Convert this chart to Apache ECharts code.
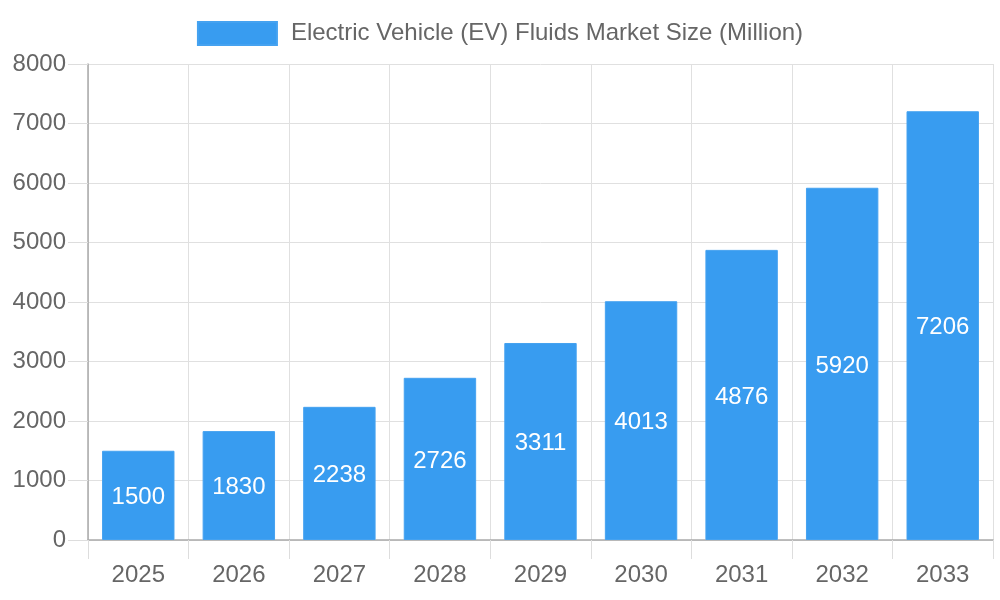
<!DOCTYPE html>
<html>
<head>
<meta charset="utf-8">
<script src="https://cdn.jsdelivr.net/npm/echarts@6/dist/echarts.min.js"></script>
<style>html,body{margin:0;padding:0;background:#fff}#c{width:1000px;height:600px}</style>
</head>
<body>
<div id="c"></div>
<script>
var years = ['2025','2026','2027','2028','2029','2030','2031','2032','2033'];
var marketSize = [1500, 1830, 2238, 2726, 3311, 4013, 4876, 5920, 7206];
var seriesName = 'Electric Vehicle (EV) Fluids Market Size (Million)';
var FF = 'Liberation Sans, Arial, sans-serif';

var chart = echarts.init(document.getElementById('c'), null, {renderer: 'canvas'});
chart.setOption({
  animation: false,
  textStyle: {fontFamily: FF},
  legend: {
    top: 16, left: 'center',
    itemWidth: 79, itemHeight: 23, itemGap: 10,
    icon: 'rect',
    textStyle: {fontSize: 24, color: '#666', fontFamily: FF, padding: [0, 0, 0, 9]},
    data: [seriesName]
  },
  grid: {left: 88, right: 7, top: 64, bottom: 60, containLabel: false},
  xAxis: {
    type: 'category',
    data: years,
    boundaryGap: true,
    axisLine: {show: true, lineStyle: {color: '#aaa', width: 1.5}},
    axisTick: {show: true, length: 19, alignWithLabel: false, lineStyle: {color: '#ddd'}},
    splitLine: {show: true, lineStyle: {color: '#e0e0e0', width: 1}},
    axisLabel: {fontSize: 24, color: '#666', margin: 23, fontFamily: FF}
  },
  yAxis: {
    type: 'value',
    min: 0, max: 8000, interval: 1000,
    axisLine: {show: true, lineStyle: {color: '#aaa', width: 1.5}},
    axisTick: {show: true, length: 20, lineStyle: {color: '#ddd'}},
    splitLine: {show: true, lineStyle: {color: '#e0e0e0', width: 1}},
    axisLabel: {fontSize: 24, color: '#666', margin: 22, fontFamily: FF,
      formatter: function (v) { return String(v); }}
  },
  series: [{
    name: seriesName,
    type: 'bar',
    data: marketSize,
    barCategoryGap: '28%',
    itemStyle: {color: '#389cf0', borderColor: '#45a2f0', borderWidth: 1},
    label: {show: true, position: 'inside', color: '#fff', fontSize: 24, fontFamily: FF, offset: [0, 2]}
  }]
});
</script>
</body>
</html>
